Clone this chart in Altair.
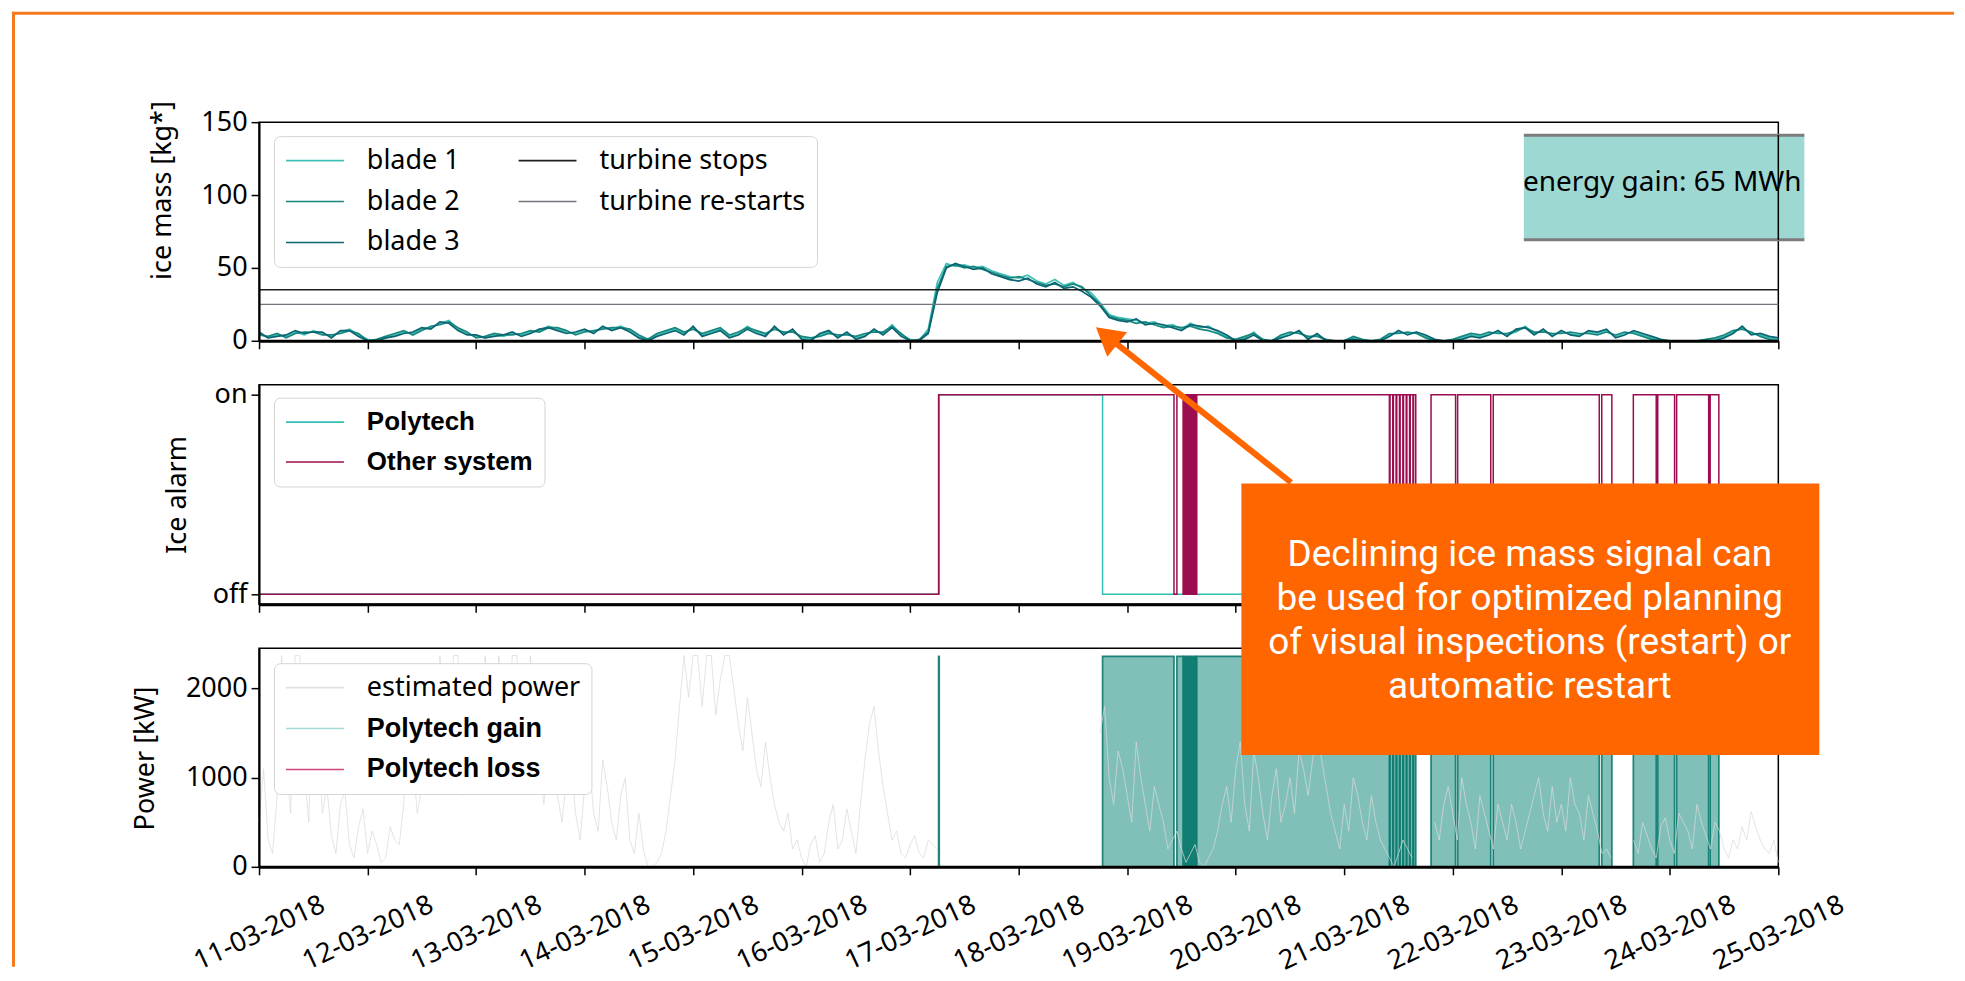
import altair as alt
import numpy as np
import pandas as pd

# ---------------------------------------------------------------- data
START = pd.Timestamp("2018-03-11 00:00:00")
SAMPLE_HOURS = 2  # spacing of the hand-read ice-mass samples below

# ice mass [kg*], one value every 2 hours from 11-03-2018 00:00
blade1 = [
    5, 2, 4, 3, 6, 4, 7, 5, 3, 6, 8, 4,
    1, 0, 2, 4, 6, 5, 8, 9, 12, 14, 8, 5,
    3, 2, 4, 3, 5, 4, 6, 7, 10, 8, 6, 5,
    7, 6, 9, 8, 10, 7, 3, 0, 4, 6, 8, 5,
    9, 4, 6, 8, 3, 5, 10, 6, 4, 9, 5, 7,
    2, 1, 4, 6, 3, 5, 2, 4, 7, 5, 11, 4,
    1, 0, 8, 40, 53, 51, 52, 50, 51, 48, 46, 44,
    43, 45, 41, 39, 42, 38, 40, 36, 33, 26, 18, 16,
    15, 14, 12, 13, 10, 11, 8, 12, 9, 10, 6, 3,
    0, 2, 6, 0, 0, 3, 5, 6, 2, 4, 0, 0,
    0, 2, 0, 0, 0, 4, 6, 5, 6, 3, 0, 0,
    0, 2, 4, 3, 5, 6, 4, 6, 10, 5, 7, 4,
    6, 5, 4, 6, 5, 7, 3, 5, 6, 4, 2, 0,
    0, 0, 0, 0, 0, 1, 3, 6, 9, 5, 4, 2,
    1,
]
blade2 = [
    4, 3, 5, 2, 5, 6, 6, 4, 4, 5, 7, 5,
    0, 1, 3, 5, 7, 4, 7, 10, 11, 13, 9, 6,
    2, 3, 5, 4, 4, 5, 7, 6, 9, 9, 7, 4,
    6, 7, 8, 9, 9, 8, 4, 1, 5, 7, 9, 6,
    8, 5, 7, 9, 4, 6, 9, 7, 5, 8, 6, 6,
    3, 2, 3, 5, 4, 4, 3, 5, 6, 6, 10, 5,
    0, 1, 6, 36, 51, 52, 50, 51, 49, 47, 45, 43,
    44, 42, 40, 38, 39, 37, 39, 37, 31, 25, 17, 15,
    14, 12, 13, 11, 9, 10, 9, 10, 8, 7, 5, 2,
    1, 3, 5, 1, 0, 4, 6, 5, 3, 3, 1, 0,
    0, 3, 1, 0, 1, 5, 5, 6, 5, 2, 0, 0,
    1, 3, 5, 4, 6, 5, 5, 7, 9, 6, 6, 5,
    5, 6, 5, 5, 4, 6, 4, 6, 5, 3, 1, 0,
    0, 0, 0, 0, 1, 2, 4, 7, 8, 6, 3, 1,
    0,
]
blade3 = [
    6, 2, 3, 4, 7, 5, 6, 6, 2, 7, 7, 3,
    0, 0, 2, 3, 5, 6, 9, 8, 13, 12, 7, 4,
    4, 2, 3, 4, 6, 3, 5, 8, 9, 7, 5, 6,
    8, 5, 10, 7, 9, 6, 2, 0, 3, 5, 7, 4,
    10, 3, 5, 7, 2, 4, 8, 5, 3, 10, 4, 8,
    1, 0, 5, 7, 2, 6, 1, 3, 8, 4, 9, 3,
    0, 0, 5, 33, 50, 53, 51, 49, 50, 46, 44, 42,
    41, 43, 39, 37, 40, 36, 37, 34, 30, 24, 16, 14,
    13, 15, 11, 12, 11, 9, 7, 11, 10, 9, 7, 4,
    0, 1, 4, 0, 0, 2, 4, 7, 1, 5, 0, 0,
    0, 1, 0, 0, 0, 3, 7, 4, 6, 4, 1, 0,
    0, 1, 3, 2, 4, 7, 3, 8, 9, 4, 8, 3,
    7, 4, 3, 7, 6, 8, 2, 4, 7, 5, 3, 1,
    0, 0, 0, 0, 0, 0, 2, 5, 10, 4, 5, 3,
    2,
]
blade_names = ["blade 1", "blade 2", "blade 3"]
threshold_names = ["turbine stops", "turbine re-starts"]
threshold_values = [35, 25]

# ice alarm switching times (days after 11-03-2018 00:00) and state after switch
alarm_names = ["Polytech", "Other system"]
polytech_days = [0.0, 6.268, 7.773, 14.0]
polytech_state = [0, 1, 0, 0]
other_days = [
    0.0, 6.262, 8.431, 8.458,
    8.515, 8.521, 8.533, 8.539, 8.551, 8.557, 8.569, 8.575,
    8.587, 8.593, 8.605, 8.611, 8.623, 8.629, 8.635, 8.641,
    10.416, 10.422, 10.447, 10.453, 10.478, 10.484, 10.509, 10.515,
    10.540, 10.546, 10.571, 10.577, 10.602, 10.608, 10.633, 10.639, 10.659,
    10.800, 11.026, 11.045, 11.350, 11.373, 12.350, 12.373, 12.466, 12.664, 12.875,
    12.889, 13.044, 13.063, 13.358, 13.372, 13.452, 14.0,
]
other_state = [
    0, 1, 0, 1,
    0, 1, 0, 1, 0, 1, 0, 1,
    0, 1, 0, 1, 0, 1, 0, 1,
    0, 1, 0, 1, 0, 1, 0, 1,
    0, 1, 0, 1, 0, 1, 0, 1, 0,
    1, 0, 1, 0, 1, 0, 1, 0, 1, 0,
    1, 0, 1, 0, 1, 0, 0,
]

# estimated power [kW]: values at even hours and at odd hours (None = not shown)
power_names = ["estimated power", "Polytech gain", "Polytech loss"]
est_power_even = [
    500, 300, 800, 1200, 2370, 1100, 2200, 600, 350, 700, 250, 450,
    150, 250, 100, 300, 700, 1200, 900, 1600, 2370, 1000, 2370, 1200,
    1400, 2370, 900, 1800, 2370, 1500, 2370, 1100, 1300, 800, 1000, 600,
    900, 600, 1200, 500, 800, 300, 600, 0, 50, 400, 1200, 2370,
    2370, 1800, 2370, 2100, 2370, 1600, 1900, 1100, 1400, 700, 400, 200,
    100, 250, 50, 500, 200, 650, 150, 1200, 1800, 900, 300, 150,
    250, 150, 300, 200, None, None, None, None, None, None, None, None,
    None, None, None, None, None, None, None, None, None, 1500, 1000, 1300,
    800, 1400, 700, 900, 500, 300, 200, 150, 50, 100, 400, 900,
    1100, 700, 1300, 600, 800, 500, 1000, 1300, 800, 1500, 900, 400,
    700, 1000, 500, 800, 300, 100, 150, 200, None, None, 500, 700,
    600, 1000, 500, 800, 400, 700, 300, 500, 400, 800, 600, 900,
    700, 1000, 600, 800, 400, 200, None, None, 300, 500, 200, 450,
    300, 600, 400, 700, 350, 500, 200, 300, 450, 620, 300, 150,
    50,
]
est_power_odd = [
    1100, 150, 2370, 600, 2370, 500, 1500, 900, 150, 850, 100, 650,
    400, 50, 450, 250, 1500, 600, 1900, 900, 1700, 2370, 800, 2100,
    900, 1600, 2370, 1200, 2370, 900, 1700, 700, 1500, 500, 1200, 300,
    1200, 400, 900, 300, 1000, 150, 200, 0, 150, 800, 1800, 1900,
    2370, 2370, 1700, 2370, 2000, 1300, 1500, 900, 1000, 500, 600, 300,
    0, 350, 150, 700, 300, 400, 700, 1600, 1300, 600, 400, 100,
    350, 100, 250, None, None, None, None, None, None, None, None, None,
    None, None, None, None, None, None, None, None, None, 1800, 700, 1100,
    500, 1000, 400, 700, 200, 400, 50, 250, 0, 200, 700, 500,
    1400, 400, 1000, 300, 1100, 700, 600, 1100, 1200, 1200, 600, 200,
    400, 800, 300, 500, 200, 0, 300, 100, None, None, 300, 900,
    300, 700, 200, 600, 200, 500, 700, 200, 600, 1000, 400, 500,
    400, 700, 300, 600, 150, 100, None, None, 150, 350, 100, 550,
    150, 500, 200, 500, 200, 400, 100, 200, 300, 450, 200, 300,
]
rated_power = 2360

tick_days = [11, 12, 13, 14, 15, 16, 17, 18, 19, 20, 21, 22, 23, 24, 25]
energy_label = "energy gain: 65 MWh"
note_lines = [
    "Declining ice mass signal can",
    "be used for optimized planning",
    "of visual inspections (restart) or",
    "automatic restart",
]

# ---------------------------------------------------------------- styling
ORANGE = "#ff6600"
FRAME_ORANGE = "#f57a1f"
FONT = "Noto Sans"
BOLD_FONT = "Liberation Sans"
W = 1522
H_TOP, H_MID, H_BOT = 219, 220, 219

top_domain = ["blade 1", "blade 2", "blade 3", "turbine stops", "turbine re-starts"]
top_colors = ["#3fc2b4", "#16877f", "#0b6572", "#1e1e1e", "#74747c"]
alarm_colors = ["#2fbfb3", "#9c0c50"]
power_colors = ["#d9d9d9", "#8fd3cc", "#c2185b"]

# annotation placement (in each panel's data units)
energy_box = {"d0": 11.655, "d1": 14.24, "v0": 69.3, "v1": 141.1, "tx": 12.93, "ty": 108.0}
note_box = {"d0": 9.052, "d1": 14.378, "v0": 1254, "v1": 4299, "tx": 11.71, "ty_first_line": 3493}
arrow = {"d0": 9.51, "v0": 4311, "d1": 7.81, "v1": 5956}


# ---------------------------------------------------------------- tables
def to_time(days):
    return START + pd.to_timedelta(np.asarray(days, dtype=float), unit="D")


n = len(blade1)
grid_days = np.arange(n) * SAMPLE_HOURS / 24.0
grid_time = to_time(grid_days)

ice_df = pd.concat(
    [pd.DataFrame({"time": grid_time, "value": vals, "series": name})
     for name, vals in zip(blade_names, [blade1, blade2, blade3])],
    ignore_index=True,
)
thr_df = pd.DataFrame({"series": threshold_names, "value": threshold_values})

alarm_df = pd.concat(
    [pd.DataFrame({"time": to_time(polytech_days), "state": polytech_state, "series": alarm_names[0]}),
     pd.DataFrame({"time": to_time(other_days), "state": other_state, "series": alarm_names[1]})],
    ignore_index=True,
)


def on_intervals(days, states, want):
    return [(days[i], days[i + 1]) for i in range(len(days) - 1) if states[i] == want]


gain_spans = []
for a0, a1 in on_intervals(other_days, other_state, 1):
    for b0, b1 in on_intervals(polytech_days, polytech_state, 0):
        lo, hi = max(a0, b0), min(a1, b1)
        if hi > lo:
            gain_spans.append((lo, hi))
gain_df = pd.DataFrame({
    "t0": to_time([g[0] for g in gain_spans]),
    "t1": to_time([g[1] for g in gain_spans]),
    "v0": 0,
    "v1": rated_power,
})

# interleave even / odd hour readings into one hourly series
hourly = []
for i in range(len(est_power_odd)):
    hourly.append(est_power_even[i])
    hourly.append(est_power_odd[i])
hourly.append(est_power_even[-1])
pw_df = pd.DataFrame({
    "time": to_time(np.arange(len(hourly)) / 24.0),
    "value": pd.array(hourly, dtype="Float64"),
})
pw_df["seg"] = pw_df["value"].isna().cumsum()
pw_df = pw_df.dropna().copy()
pw_df["value"] = pw_df["value"].astype(float)
pw_df["series"] = power_names[0]

energy_df = pd.DataFrame({
    "t0": to_time([energy_box["d0"]]), "t1": to_time([energy_box["d1"]]),
    "v0": [energy_box["v0"]], "v1": [energy_box["v1"]],
    "tx": to_time([energy_box["tx"]]), "ty": [energy_box["ty"]],
    "tr": to_time([14.0]),
})
edge_df = pd.DataFrame({
    "t0": to_time([energy_box["d0"]] * 2), "t1": to_time([energy_box["d1"]] * 2),
    "v": [energy_box["v0"], energy_box["v1"]],
})
note_df = pd.DataFrame({
    "t0": to_time([note_box["d0"]]), "t1": to_time([note_box["d1"]]),
    "v0": [note_box["v0"]], "v1": [note_box["v1"]],
    "tx": to_time([note_box["tx"]]), "ty": [note_box["ty_first_line"]],
})
arrow_df = pd.DataFrame({
    "t0": to_time([arrow["d0"]]), "v0": [arrow["v0"]],
    "t1": to_time([arrow["d1"]]), "v1": [arrow["v1"]],
})
one = pd.DataFrame({"k": [0]})

x_domain = [alt.DateTime(year=2018, month=3, date=11), alt.DateTime(year=2018, month=3, date=25)]
tick_vals = [alt.DateTime(year=2018, month=3, date=d) for d in tick_days]


def xscale():
    return alt.Scale(domain=x_domain)


def x_axis(labels):
    kw = dict(values=tick_vals, ticks=True, tickSize=8, tickWidth=1.5, tickColor="black",
              domainWidth=3, domainColor="black", title=None, grid=False, zindex=1)
    if labels:
        kw.update(labels=True, format="%d-%m-%Y", labelAngle=335, labelAlign="center",
                  labelBaseline="middle", labelPadding=58, labelFlush=False, labelOverlap=False,
                  labelFont=FONT, labelFontSize=27, labelColor="black", labelBound=False)
    else:
        kw.update(labels=False)
    return alt.Axis(**kw)


def y_axis(values, title, tx, ty, label_expr=None):
    kw = dict(values=values, format="d", title=title, titleAngle=270, titleAlign="center",
              titleBaseline="middle", titleX=tx, titleY=ty, titleFont=FONT, titleFontSize=27,
              titleFontWeight="normal", titleColor="black", labelFont=FONT, labelFontSize=27,
              labelColor="black", labelPadding=4, tickSize=8, tickWidth=1.5, tickColor="black",
              domainWidth=2, domainColor="black", grid=False, zindex=1)
    if label_expr:
        kw["labelExpr"] = label_expr
    return alt.Axis(**kw)


def legend(x, y, columns=1, col_pad=0, font=FONT, weight="normal", size=27):
    return alt.Legend(
        orient="none", legendX=x, legendY=y, title=None, direction="vertical",
        columns=columns, columnPadding=col_pad, rowPadding=13,
        symbolType="stroke", symbolSize=3364, symbolStrokeWidth=1.6, clipHeight=27,
        labelFont=font, labelFontWeight=weight, labelFontSize=size, labelColor="black",
        labelOffset=22, labelLimit=500, padding=11,
        strokeColor="#d4d4d4", fillColor="white", cornerRadius=6,
    )


# ---------------------------------------------------------------- top panel
ys_top = alt.Scale(domain=[0, 150])
top_color = alt.Scale(domain=top_domain, range=top_colors)
top_legend = legend(15, 14, columns=2, col_pad=57)
top_xaxis = x_axis(False)
top_yaxis = y_axis([0, 50, 100, 150], "ice mass [kg*]", -97, 68)

ice_lines = alt.Chart(ice_df).mark_line(strokeWidth=1.7).encode(
    x=alt.X("time:T", scale=xscale(), axis=top_xaxis),
    y=alt.Y("value:Q", scale=ys_top, axis=top_yaxis),
    color=alt.Color("series:N", scale=top_color, legend=top_legend),
)
thr_rules = alt.Chart(thr_df).mark_rule(strokeWidth=1.3).encode(
    y=alt.Y("value:Q", scale=ys_top, axis=top_yaxis),
    color=alt.Color("series:N", scale=top_color, legend=top_legend),
)
energy_rect = alt.Chart(energy_df).mark_rect(color="#9dd8d3").encode(
    x=alt.X("t0:T", scale=xscale(), axis=top_xaxis), x2="t1:T",
    y=alt.Y("v0:Q", scale=ys_top, axis=top_yaxis), y2="v1:Q",
)
energy_edges = alt.Chart(edge_df).mark_rule(color="#7d7d7d", strokeWidth=3).encode(
    x=alt.X("t0:T", scale=xscale(), axis=top_xaxis), x2="t1:T",
    y=alt.Y("v:Q", scale=ys_top, axis=top_yaxis),
)
energy_spine = alt.Chart(energy_df).mark_rule(color="black", strokeWidth=1.5).encode(
    x=alt.X("tr:T", scale=xscale(), axis=top_xaxis),
    y=alt.Y("v0:Q", scale=ys_top, axis=top_yaxis), y2="v1:Q",
)
energy_text = alt.Chart(energy_df).mark_text(
    text=energy_label, font=FONT, fontSize=28, color="black", align="center", baseline="middle"
).encode(
    x=alt.X("tx:T", scale=xscale(), axis=top_xaxis),
    y=alt.Y("ty:Q", scale=ys_top, axis=top_yaxis),
)
frame_left = alt.Chart(one).mark_rule(color=FRAME_ORANGE, strokeWidth=3).encode(
    x=alt.value(-246), y=alt.value(-110.5), y2=alt.value(846)
)
frame_top = alt.Chart(one).mark_rule(color=FRAME_ORANGE, strokeWidth=3).encode(
    x=alt.value(-247.5), x2=alt.value(1698), y=alt.value(-109)
)
top = alt.layer(
    ice_lines, thr_rules, energy_rect, energy_edges, energy_spine, energy_text, frame_left, frame_top
).properties(width=W, height=H_TOP)

# ---------------------------------------------------------------- middle panel
ys_mid = alt.Scale(domain=[-0.05, 1.05])
alarm_color = alt.Scale(domain=alarm_names, range=alarm_colors)
mid = alt.Chart(alarm_df).mark_line(interpolate="step-after", strokeWidth=1.5).encode(
    x=alt.X("time:T", scale=xscale(), axis=x_axis(False)),
    y=alt.Y("state:Q", scale=ys_mid,
            axis=y_axis([0, 1], "Ice alarm", -82, 110, "datum.value >= 1 ? 'on' : 'off'")),
    color=alt.Color("series:N", scale=alarm_color,
                    legend=legend(15, 13, font=BOLD_FONT, weight="bold", size=26)),
    order=alt.Order("series:N", sort="descending"),
).properties(width=W, height=H_MID)

# ---------------------------------------------------------------- bottom panel
ys_bot = alt.Scale(domain=[0, 2452])
power_color = alt.Scale(domain=power_names, range=power_colors)
bot_legend = legend(
    15, 15,
    font={"expr": "datum.label == 'estimated power' ? 'Noto Sans' : 'Liberation Sans'"},
    weight={"expr": "datum.label == 'estimated power' ? 'normal' : 'bold'"},
    size=27,
)
bot_xaxis = x_axis(True)
bot_yaxis = y_axis([0, 1000, 2000], "Power [kW]", -114, 110)

gain_rects = alt.Chart(gain_df).mark_rect(
    color="#1a8c80", fillOpacity=0.55, stroke="#0b7a6e", strokeWidth=1.7, strokeOpacity=0.9
).encode(
    x=alt.X("t0:T", scale=xscale(), axis=bot_xaxis), x2="t1:T",
    y=alt.Y("v0:Q", scale=ys_bot, axis=bot_yaxis), y2="v1:Q",
)
power_line = alt.Chart(pw_df).mark_line(strokeWidth=0.9, opacity=0.8).encode(
    x=alt.X("time:T", scale=xscale(), axis=bot_xaxis),
    y=alt.Y("value:Q", scale=ys_bot, axis=bot_yaxis),
    detail="seg:N",
    color=alt.Color("series:N", scale=power_color, legend=bot_legend),
)
note_rect = alt.Chart(note_df).mark_rect(color=ORANGE).encode(
    x=alt.X("t0:T", scale=xscale(), axis=bot_xaxis), x2="t1:T",
    y=alt.Y("v0:Q", scale=ys_bot, axis=bot_yaxis), y2="v1:Q",
)
note_text = alt.Chart(note_df).mark_text(
    text=note_lines, font="Roboto", fontSize=37, lineHeight=44, color="white",
    align="center", baseline="middle",
).encode(
    x=alt.X("tx:T", scale=xscale(), axis=bot_xaxis),
    y=alt.Y("ty:Q", scale=ys_bot, axis=bot_yaxis),
)
arrow_line = alt.Chart(arrow_df).mark_rule(color=ORANGE, strokeWidth=6).encode(
    x=alt.X("t0:T", scale=xscale(), axis=bot_xaxis), x2="t1:T",
    y=alt.Y("v0:Q", scale=ys_bot, axis=bot_yaxis), y2="v1:Q",
)
arrow_head = alt.Chart(arrow_df).mark_point(
    shape="triangle-up", filled=True, size=1000, angle=309, color=ORANGE, opacity=1
).encode(
    x=alt.X("t1:T", scale=xscale(), axis=bot_xaxis),
    y=alt.Y("v1:Q", scale=ys_bot, axis=bot_yaxis),
)
bot = alt.layer(
    gain_rects, power_line, note_rect, note_text, arrow_line, arrow_head
).properties(width=W, height=H_BOT)

# ---------------------------------------------------------------- assemble
chart = (
    alt.vconcat(top, mid, bot, spacing=44, bounds="flush")
    .resolve_scale(x="independent", y="independent", color="independent")
    .properties(padding={"left": 1.5, "top": 0.5, "right": 0, "bottom": 0}, background="white")
    .configure(font=FONT)
    .configure_view(stroke="black", strokeWidth=1.5)
)

chart.save("out.html", embed_options={"renderer": "svg", "actions": False})
